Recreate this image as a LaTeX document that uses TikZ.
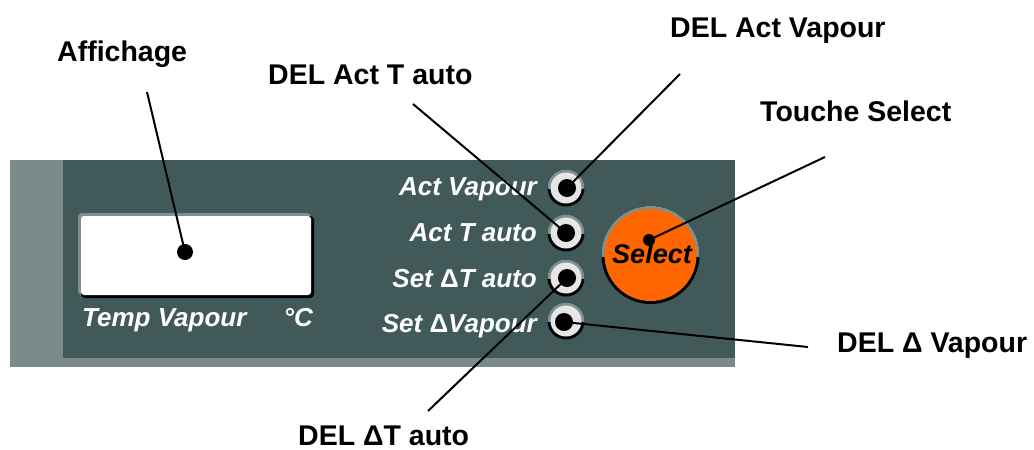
\documentclass[tikz,border=0pt]{standalone}
\usepackage{fontspec}
\setmainfont{Liberation Sans}
\definecolor{paneldark}{HTML}{415A59}
\definecolor{panellight}{HTML}{7B8B89}
\definecolor{ringgray}{HTML}{7F908E}
\definecolor{ledlight}{HTML}{E6E6E6}
\definecolor{btnorange}{HTML}{FF6600}
\tikzset{
  lbl/.style={font=\fontsize{28.5}{34}\selectfont\bfseries, inner sep=0pt, anchor=base west},
  ptxt/.style={font=\fontsize{26}{30}\selectfont\bfseries\itshape, text=white, inner sep=0pt},
  dotnode/.style={circle, fill=black, inner sep=0pt},
  conn/.style={line width=2pt, black},
}
\newcommand{\ledring}[2]{%
  \fill[black] (#1,#2) circle (18.5);
  \begin{scope}\clip (#1-21,#2-21) rectangle (#1+21,#2);
  \fill[ringgray] (#1,#2) circle (18.5);\end{scope}
  \fill[ledlight] (#1,#2) circle (15.5);
}
\begin{document}
\begin{tikzpicture}[x=1pt,y=-1pt]
\useasboundingbox (0,0) rectangle (1034,450);
\fill[white] (0,0) rectangle (1034,450);
% panel
\fill[panellight] (10,160) rectangle (735,367);
\fill[paneldark] (63,160) rectangle (735,358);
% display
\fill[ringgray, rounded corners=4pt] (78,213) rectangle (311,295);
\fill[black, rounded corners=4pt] (81,216) rectangle (314,298);
\fill[white, rounded corners=3pt] (81,216) rectangle (311,295);
\node[dotnode, minimum size=16pt] (disp) at (185,252) {};
\node[ptxt, anchor=base west] (tv) at (82,326) {Temp Vapour};
\node[ptxt, anchor=base east] (degc) at (313,326) {°C};
% LEDs
\ledring{566}{188}
\ledring{566}{233}
\ledring{566}{278}
\ledring{566}{321}
\node[dotnode, minimum size=18pt] (led1) at (567,188) {};
\node[dotnode, minimum size=18pt] (led2) at (566,233) {};
\node[dotnode, minimum size=18pt] (led3) at (567,278) {};
\node[dotnode, minimum size=18pt] (led4) at (564,322) {};
\node[ptxt, anchor=base east] (t1) at (537,195) {Act Vapour};
\node[ptxt, anchor=base east] (t2) at (537,241) {Act T auto};
\node[ptxt, anchor=base east] (t3) at (537,287) {Set {\upshape Δ}T auto};
\node[ptxt, anchor=base east] (t4) at (537,332) {Set {\upshape Δ}Vapour};
% select button
\fill[black] (650.5,255) circle (49);
\begin{scope}\clip (598,203) rectangle (703,256);
\fill[ringgray] (650.5,255) circle (49);\end{scope}
\fill[btnorange] (650.5,255) circle (46);
\node[font=\fontsize{27}{32}\selectfont\bfseries\itshape, inner sep=0pt, anchor=base] (seltxt) at (652,263) {Select};
\node[dotnode, minimum size=12pt] (seldot) at (649,240) {};
% labels
\node[lbl] (laff) at (57,61) {Affichage};
\node[lbl] (lact) at (268,84) {DEL Act T auto};
\node[lbl] (lvap) at (670,37) {DEL Act Vapour};
\node[lbl] (lsel) at (760,121) {Touche Select};
\node[lbl] (ldv) at (837,352) {DEL Δ Vapour};
\node[lbl] (ldt) at (298,445) {DEL ΔT auto};
% connector ends
\coordinate (caff) at (147,92);
\coordinate (cact) at (413,104);
\coordinate (cvap) at (680,74);
\coordinate (csel) at (825,157);
\coordinate (cdv) at (808,347);
\coordinate (cdt) at (428,411);
\draw[conn] (caff) -- (disp.center);
\draw[conn] (cact) -- (led2.center);
\draw[conn] (cvap) -- (led1.center);
\draw[conn] (csel) -- (seldot.center);
\draw[conn] (cdv) -- (led4.center);
\draw[conn] (cdt) -- (led3.center);
\end{tikzpicture}
\end{document}
